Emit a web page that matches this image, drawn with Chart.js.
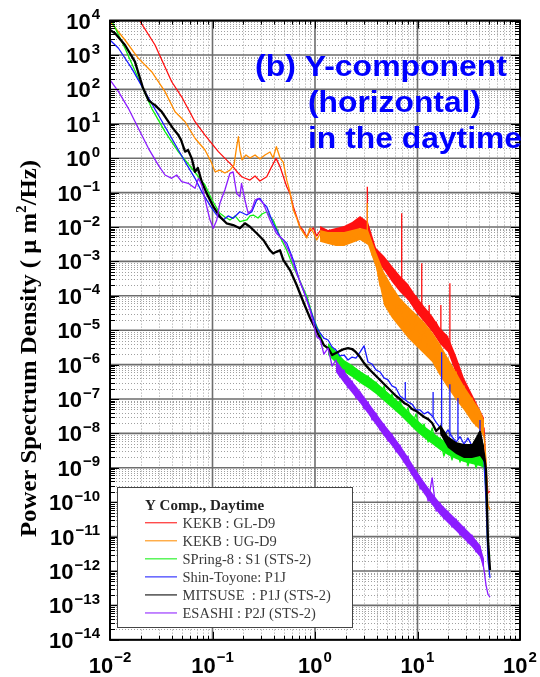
<!DOCTYPE html>
<html><head><meta charset="utf-8">
<script src="https://cdn.jsdelivr.net/npm/chart.js@4.4.1/dist/chart.umd.min.js"></script>
<style>html,body{margin:0;padding:0;background:#fff;}canvas{display:block;}</style>
</head><body>
<canvas id="c" width="540" height="677"></canvas>
<script>
// ---------- DATA (frequency in Hz, PSD in (um)^2/Hz) ----------
const seriesLabels = ['KEKB : GL-D9', 'KEKB : UG-D9', 'SPring-8 : S1 (STS-2)', 'Shin-Toyone: P1J', 'MITSUSE  : P1J (STS-2)', 'ESASHI : P2J (STS-2)'];

// shared high-frequency sampling (Hz)
const freqHi = [1.12, 1.22, 1.34, 1.47, 1.60, 1.75, 1.92, 2.10, 2.30, 2.51, 2.75, 3.01, 3.29, 3.60, 3.94, 4.31, 4.71, 5.16, 5.64, 6.17, 6.75, 7.39, 8.08, 8.84, 9.67, 10.6, 11.6, 12.7, 13.9, 15.2, 16.6, 18.1, 19.8, 21.7, 23.8, 26.0, 28.4, 31.1, 34.0, 37.2, 40.7, 44.6, 46.6, 48.7, 51.0];
// frequencies at which the envelopes of the noisy bands were read (Hz)
const bandFreq = [1.12, 1.34, 1.60, 1.92, 2.30, 2.75, 3.29, 3.94, 4.71, 5.64, 6.75, 8.08, 9.67, 11.6, 13.9, 16.6, 19.8, 23.8, 28.4, 34.0, 40.7, 44.6];
const greenBandFreq = [1.34, 1.60, 1.92, 2.30, 2.75, 3.29, 3.94, 4.71, 5.64, 6.75, 8.08, 9.67, 11.6, 13.9, 16.6, 19.8, 23.8, 28.4, 34.0, 40.7, 44.6];
const purpleBandFreq = [1.60, 1.92, 2.30, 2.75, 3.29, 3.94, 4.71, 5.64, 6.75, 8.08, 9.67, 11.6, 13.9, 16.6, 19.8, 23.8, 28.4, 34.0, 40.7, 44.6];

// KEKB GL-D9 (red)
const redFreqLo = [0.0196, 0.0275, 0.040, 0.050, 0.0675, 0.0845, 0.114, 0.154, 0.179, 0.194, 0.232, 0.26, 0.29, 0.338, 0.372, 0.417, 0.456, 0.53, 0.57, 0.614, 0.662, 0.714, 0.764, 0.83, 0.894, 0.962, 1.04];
const redPsdLo = [9.7e3, 1.95e3, 167, 61, 11.5, 4.7, 1.55, 0.63, 0.364, 0.284, 0.232, 0.304, 0.217, 0.29, 0.52, 0.99, 0.57, 0.148, 0.095, 0.039, 0.02, 0.0102, 0.0082, 0.0052, 0.0077, 0.0094, 0.0055];
const redPsdHi = [7.7e-3, 4.8e-3, 5.5e-3, 3.4e-3, 6.3e-3, 4.2e-3, 7.1e-3, 5.1e-3, 9.4e-3, 7.7e-3, 1.6e-2, 1.14e-2, 1.1e-2, 2.8e-3, 2.1e-3, 9.6e-4, 1.26e-3, 4.3e-4, 6.4e-4, 2.2e-4, 3.0e-4, 1.29e-4, 1.93e-4, 6.6e-5, 9.9e-5, 4.5e-5, 2.6e-5, 3.5e-5, 1.16e-5, 1.73e-5, 7e-6, 3.7e-6, 5.2e-6, 2.5e-6, 6.1e-7, 4e-7, 1.6e-7, 2.1e-7, 7.1e-8, 6.7e-8, 1.44e-8, 1.44e-8, 8.6e-10, 1.85e-10, 2.1e-10];
const redBandUpper = [1.07e-2, 8.2e-3, 9.3e-3, 1.07e-2, 1.4e-2, 2.09e-2, 1.4e-2, 2.45e-3, 1.44e-3, 7.4e-4, 3.8e-4, 2.2e-4, 9.9e-5, 5.0e-5, 2.6e-5, 1.16e-5, 6.8e-6, 1.78e-6, 4.1e-7, 1.4e-7, 4.8e-8, 2.8e-8];
const redBandLower = [4.8e-3, 3.7e-3, 4.2e-3, 4.8e-3, 6.3e-3, 9.3e-3, 6.3e-3, 1.1e-3, 5.6e-4, 2.5e-4, 1.29e-4, 7.5e-5, 3.4e-5, 1.73e-5, 8.9e-6, 4.0e-6, 2.3e-6, 5.3e-7, 1.4e-7, 4.8e-8, 1.64e-8, 1.26e-8];
const redSpikeFreq = [3.24, 7.01, 11.0, 13.0, 16.9, 20.7, 25.0];
const redSpikePeak = [0.148, 0.025, 8.8e-4, 5.4e-5, 5.4e-5, 2.3e-4, 1.11e-6];
const redSpikeBase = [0.011, 2.5e-4, 5e-5, 2e-5, 7e-6, 3e-6, 4e-7];

// KEKB UG-D9 (orange)
const orangeFreqLo = [0.0101, 0.014, 0.0189, 0.0255, 0.0344, 0.0431, 0.054, 0.0675, 0.0845, 0.098, 0.106, 0.118, 0.132, 0.148, 0.162, 0.173, 0.179, 0.185, 0.194, 0.212, 0.232, 0.26, 0.29, 0.325, 0.364, 0.39, 0.42, 0.456, 0.49, 0.53, 0.57, 0.614, 0.662, 0.714, 0.764, 0.83, 0.894, 0.962, 1.04];
const orangePsdLo = [9.1e3, 2.73e3, 800, 327, 86, 22.5, 11.5, 3.8, 1.73, 0.73, 0.40, 0.45, 0.37, 0.45, 0.63, 2.4, 4.2, 1.73, 0.89, 1.24, 1.01, 1.24, 0.95, 1.24, 1.51, 1.01, 2.16, 1.01, 0.77, 0.23, 0.104, 0.0312, 0.0183, 0.0094, 0.0071, 0.0048, 0.0094, 0.0071, 0.0042];
const orangePsdHi = [6.3e-3, 4.2e-3, 5.5e-3, 3.2e-3, 4.8e-3, 3.0e-3, 5.5e-3, 3.7e-3, 6.3e-3, 4.2e-3, 7.1e-3, 4.8e-3, 6e-3, 1.53e-3, 9.6e-4, 1.93e-4, 4.3e-4, 5.8e-5, 1.69e-4, 2.6e-5, 6.6e-5, 1.16e-5, 3.4e-5, 6.8e-6, 2.26e-5, 4.0e-6, 1.32e-5, 2.3e-6, 6.8e-6, 1.04e-6, 3.5e-6, 4.1e-7, 1.55e-6, 1.83e-7, 6.1e-7, 8.2e-8, 2.4e-7, 3.7e-8, 1.07e-7, 1.64e-8, 4.2e-8, 8.4e-9, 1.69e-9, 8.3e-11, 5.9e-11];
const orangeBandUpper = [8.2e-3, 7.1e-3, 7.1e-3, 7.1e-3, 8.2e-3, 9.3e-3, 8.2e-3, 1.88e-3, 4.9e-4, 1.93e-4, 8.6e-5, 5.0e-5, 2.96e-5, 1.73e-5, 8.9e-6, 4.0e-6, 1.55e-6, 6.1e-7, 2.39e-7, 1.07e-7, 4.8e-8, 2.45e-8];
const orangeBandLower = [3.7e-3, 3.2e-3, 2.8e-3, 2.8e-3, 3.4e-3, 4.2e-3, 3.0e-3, 6.4e-4, 5.4e-5, 2.26e-5, 1.16e-5, 5.9e-6, 3.5e-6, 2.03e-6, 1.19e-6, 4.66e-7, 2.09e-7, 9.3e-8, 4.8e-8, 2.15e-8, 1.26e-8, 7.4e-9];
const orangeSpikeFreq = [3.24];
const orangeSpikePeak = [0.05];
const orangeSpikeBase = [6e-3];

// SPring-8 S1 (green)
const greenFreqLo = [0.01, 0.014, 0.0189, 0.0255, 0.0344, 0.0463, 0.0627, 0.0845, 0.099, 0.118, 0.132, 0.148, 0.166, 0.185, 0.216, 0.232, 0.25, 0.278, 0.304, 0.338, 0.364, 0.39, 0.456, 0.53, 0.614, 0.714, 0.83, 0.962];
const greenPsdLo = [1.27e4, 1.57e3, 210, 28.2, 5.9, 1.55, 0.51, 0.166, 0.061, 0.025, 0.0195, 0.016, 0.021, 0.0143, 0.016, 0.021, 0.0223, 0.0183, 0.0239, 0.0278, 0.0195, 0.016, 0.0052, 0.0021, 7.0e-4, 2.7e-4, 9.9e-5, 2.26e-5];
const greenPsdHi = [7.8e-6, 3.5e-6, 3.0e-6, 1.55e-6, 1.78e-6, 8.5e-7, 1.19e-6, 6.1e-7, 9.1e-7, 4.1e-7, 6.1e-7, 2.73e-7, 4.7e-7, 1.95e-7, 3.1e-7, 1.22e-7, 2.4e-7, 8.2e-8, 1.4e-7, 4.8e-8, 9.3e-8, 3.2e-8, 5.5e-8, 1.64e-8, 3.7e-8, 1.1e-8, 1.88e-8, 5.6e-9, 1.44e-8, 4.3e-9, 7.3e-9, 2.2e-9, 4.9e-9, 1.69e-9, 4.3e-9, 1.47e-9, 3.8e-9, 1.13e-9, 3.3e-9, 9.9e-10, 2.2e-9, 1.13e-9, 2.26e-10, 3.3e-12, 2.7e-12];
const greenBandUpper = [4.25e-6, 2.5e-6, 1.36e-6, 9.73e-7, 6.52e-7, 4.66e-7, 3.12e-7, 1.95e-7, 1.22e-7, 7.7e-8, 4.5e-8, 2.6e-8, 1.64e-8, 1.1e-8, 7.4e-9, 5.3e-9, 4.0e-9, 3.3e-9, 2.9e-9, 2.5e-9, 2.06e-9];
const greenBandLower = [1.9e-6, 1.11e-6, 6.1e-7, 4.36e-7, 2.92e-7, 2.09e-7, 1.4e-7, 8.7e-8, 5.5e-8, 3.4e-8, 2.0e-8, 1.17e-8, 7.4e-9, 4.9e-9, 3.3e-9, 2.35e-9, 1.8e-9, 1.47e-9, 1.29e-9, 1.13e-9, 9.9e-10];

// Shin-Toyone P1J (blue)
const blueFreqLo = [0.01, 0.0121, 0.0163, 0.0219, 0.0296, 0.04, 0.054, 0.0675, 0.0785, 0.0878, 0.097, 0.11, 0.127, 0.142, 0.159, 0.185, 0.216, 0.242, 0.27, 0.29, 0.31, 0.338, 0.39, 0.456, 0.53, 0.614, 0.714, 0.83, 0.962, 1.04];
const bluePsdLo = [2.73e3, 1.57e3, 410, 86, 18, 3.8, 0.79, 0.26, 0.106, 0.061, 0.038, 0.0223, 0.016, 0.021, 0.0179, 0.0278, 0.0223, 0.0278, 0.061, 0.068, 0.05, 0.039, 0.0128, 0.0052, 0.0034, 0.0011, 2.5e-4, 8.1e-5, 2.26e-5, 1.16e-5];
const bluePsdHi = [8.3e-6, 5.9e-6, 5.2e-6, 3.25e-6, 2.66e-6, 1.78e-6, 1.9e-6, 1.36e-6, 1.66e-6, 1.55e-6, 2.3e-6, 3.5e-6, 1.19e-6, 1.04e-6, 7.0e-7, 6.1e-7, 4.1e-7, 3.6e-7, 2.4e-7, 2.1e-7, 1.22e-7, 1.0e-7, 8.2e-8, 7.1e-8, 4.8e-8, 4.8e-8, 3.7e-8, 4.2e-8, 3.2e-8, 2.1e-8, 1.5e-8, 8.4e-9, 1.26e-8, 8e-9, 5.6e-9, 8e-9, 4.9e-9, 7.3e-9, 4.3e-9, 2.9e-9, 3.5e-9, 1.47e-9, 1.16e-10, 2.1e-12, 6.3e-13];
const blueSpikeFreq = [7.6, 14.2, 17.2, 20.7, 24.8, 40.7];
const blueSpikePeak = [3.1e-7, 1.6e-7, 2.3e-6, 2.7e-7, 1.07e-7, 2.45e-8];
const blueSpikeBase = [1e-7, 3e-8, 1.3e-8, 8e-9, 7e-9, 4e-9];

// MITSUSE P1J (black)
const blackFreqLo = [0.01, 0.0112, 0.014, 0.0175, 0.021, 0.0237, 0.0257, 0.0275, 0.0319, 0.0371, 0.041, 0.0464, 0.0493, 0.054, 0.0577, 0.0627, 0.0675, 0.072, 0.0785, 0.0878, 0.102, 0.118, 0.137, 0.159, 0.185, 0.207, 0.232, 0.27, 0.313, 0.364, 0.39, 0.42, 0.456, 0.49, 0.57, 0.662, 0.77, 0.894];
const blackPsdLo = [5.3e3, 4.3e3, 1.95e3, 640, 110, 49, 40, 35, 22.5, 11.5, 7.5, 4.7, 3.4, 1.55, 1.73, 0.99, 0.40, 0.52, 0.207, 0.095, 0.039, 0.02, 0.0128, 0.0114, 0.0092, 0.0128, 0.0102, 0.0066, 0.0042, 0.0021, 0.0017, 0.0019, 0.0021, 0.0011, 5.6e-4, 2.06e-4, 6.6e-5, 2.26e-5];
const blackPsdHi = [5.9e-6, 3.7e-6, 3.0e-6, 1.9e-6, 2.17e-6, 2.5e-6, 2.84e-6, 3.0e-6, 2.84e-6, 2.3e-6, 1.66e-6, 1.11e-6, 8.0e-7, 6.1e-7, 4.66e-7, 3.57e-7, 2.73e-7, 2.09e-7, 1.6e-7, 1.22e-7, 1.0e-7, 7.7e-8, 6.7e-8, 5.1e-8, 4.5e-8, 3.7e-8, 3.0e-8, 2.6e-8, 2.0e-8, 1.17e-8, 1.53e-8, 7.9e-9, 5.6e-9, 4.3e-9, 3.5e-9, 2.9e-9, 3.3e-9, 2.35e-9, 3.3e-9, 4.9e-9, 1.1e-8, 2.35e-9, 8.6e-10, 8.0e-12, 1.07e-12];
const blackBandFreq = [16.6, 19.8, 23.8, 28.4, 34.0, 40.7, 44.6];
const blackBandUpper = [1.88e-8, 8.4e-9, 5.6e-9, 4.9e-9, 4.9e-9, 1.26e-8, 4.3e-9];
const blackBandLower = [9.6e-9, 3.8e-9, 2.5e-9, 1.93e-9, 1.93e-9, 2.2e-9, 1.47e-9];

// ESASHI P2J (purple)
const purpleFreqLo = [0.01, 0.0121, 0.0151, 0.0189, 0.0237, 0.0296, 0.0344, 0.04, 0.0447, 0.05, 0.058, 0.0675, 0.073, 0.079, 0.0878, 0.0946, 0.102, 0.11, 0.118, 0.132, 0.148, 0.159, 0.172, 0.185, 0.192, 0.207, 0.223, 0.241, 0.26, 0.28, 0.313, 0.364, 0.42, 0.49, 0.57, 0.662, 0.77, 0.894, 1.04];
const purplePsdLo = [188, 86, 28.2, 7.4, 1.94, 0.63, 0.325, 0.26, 0.325, 0.207, 0.186, 0.133, 0.26, 0.155, 0.039, 0.016, 0.0092, 0.016, 0.049, 0.119, 0.364, 0.40, 0.095, 0.076, 0.186, 0.061, 0.025, 0.031, 0.061, 0.068, 0.049, 0.016, 0.0066, 0.0042, 0.0017, 4.5e-4, 1.47e-4, 3.9e-5, 6.5e-6];
const purplePsdHi = [5.5e-6, 2.03e-6, 3.0e-6, 9.1e-7, 1.36e-6, 4.36e-7, 7.0e-7, 2.09e-7, 3.34e-7, 1.07e-7, 1.6e-7, 5.1e-8, 8.2e-8, 2.45e-8, 3.9e-8, 1.26e-8, 1.88e-8, 6.0e-9, 9.6e-9, 2.9e-9, 4.6e-9, 1.47e-9, 2.2e-9, 6.2e-10, 8.6e-10, 2.4e-10, 3.6e-10, 1.08e-10, 5.1e-10, 5.5e-11, 9.5e-11, 3.25e-11, 5.5e-11, 1.9e-11, 3.25e-11, 1.11e-11, 1.9e-11, 6.5e-12, 1.11e-11, 3.6e-12, 5.3e-12, 1.07e-12, 3.9e-13, 2.1e-13, 1.75e-13];
const purpleBandUpper = [1.36e-6, 6.52e-7, 3.34e-7, 1.71e-7, 8.2e-8, 3.9e-8, 1.88e-8, 9.6e-9, 4.6e-9, 2.06e-9, 8.6e-10, 3.86e-10, 1.85e-10, 9.5e-11, 5.55e-11, 3.25e-11, 1.9e-11, 1.11e-11, 5.7e-12, 2.23e-12];
const purpleBandLower = [6.1e-7, 2.92e-7, 1.49e-7, 7.7e-8, 3.7e-8, 1.76e-8, 8.4e-9, 4.3e-9, 2.06e-9, 9.2e-10, 3.86e-10, 1.73e-10, 8.3e-11, 4.25e-11, 2.5e-11, 1.45e-11, 8.5e-12, 4.99e-12, 2.55e-12, 1.0e-12];

// tick labels (powers of ten)
const xTickExp = [-2, -1, 0, 1, 2];
const yTickExp = [4, 3, 2, 1, 0, -1, -2, -3, -4, -5, -6, -7, -8, -9, -10, -11, -12, -13, -14];

const titleLines = ['(b) Y-component', '(horizontal)', 'in the daytime'];
const legendTitle = 'Y Comp., Daytime';
const axisTitle = ['Power Spectrum Density ( \u03bc m', '2', '/Hz)'];

// ---------- build ----------
const colors = ['#ff1010', '#ff8c00', '#10f010', '#1a1aff', '#000000', '#8c1cff'];
const widths = [1.3, 1.3, 1.3, 1.3, 2.3, 1.3];
const drawOrder = [6, 5, 4, 3, 2, 1];

function joinPts(fl, pl, fh, ph) {
  const out = fl.map((f, i) => ({x: f, y: pl[i]}));
  return out.concat(fh.map((f, i) => ({x: f, y: ph[i]})));
}
function spikePts(fs, pk, bs) {
  const out = [];
  fs.forEach((f, i) => { out.push({x: f, y: bs[i]}, {x: f, y: pk[i]}, {x: f, y: null}); });
  return out;
}
const toPts = (fs, vs) => fs.map((f, i) => ({x: f, y: vs[i]}));

const mainData = [
  joinPts(redFreqLo, redPsdLo, freqHi, redPsdHi),
  joinPts(orangeFreqLo, orangePsdLo, freqHi, orangePsdHi),
  joinPts(greenFreqLo, greenPsdLo, freqHi, greenPsdHi),
  joinPts(blueFreqLo, bluePsdLo, freqHi, bluePsdHi),
  joinPts(blackFreqLo, blackPsdLo, freqHi, blackPsdHi),
  joinPts(purpleFreqLo, purplePsdLo, freqHi, purplePsdHi)
];
const datasets = mainData.map((d, i) => ({
  label: seriesLabels[i], data: d, borderColor: colors[i], borderWidth: widths[i],
  pointRadius: 0, tension: 0, borderJoinStyle: 'round', fill: false, order: drawOrder[i], isMain: true
}));
[[0, spikePts(redSpikeFreq, redSpikePeak, redSpikeBase)],
 [1, spikePts(orangeSpikeFreq, orangeSpikePeak, orangeSpikeBase)],
 [3, spikePts(blueSpikeFreq, blueSpikePeak, blueSpikeBase)]].forEach(([k, d]) => {
  datasets.push({label: seriesLabels[k] + ' spikes', data: d, borderColor: colors[k], borderWidth: 1.3,
    pointRadius: 0, spanGaps: false, fill: false, order: drawOrder[k], isMain: false});
});
// noisy bands: lower envelope then upper envelope filled down to it
[[0, bandFreq, redBandLower, redBandUpper],
 [1, bandFreq, orangeBandLower, orangeBandUpper],
 [2, greenBandFreq, greenBandLower, greenBandUpper],
 [4, blackBandFreq, blackBandLower, blackBandUpper],
 [5, purpleBandFreq, purpleBandLower, purpleBandUpper]].forEach(([k, fs, lo, hi]) => {
  datasets.push({label: 'band-lo', data: toPts(fs, lo), borderWidth: 0, borderColor: 'rgba(0,0,0,0)',
    pointRadius: 0, fill: false, order: drawOrder[k] + 0.5, isMain: false});
  datasets.push({label: 'band-hi', data: toPts(fs, hi), borderWidth: 0, borderColor: 'rgba(0,0,0,0)',
    backgroundColor: colors[k], pointRadius: 0, fill: '-1', order: drawOrder[k] + 0.5, isMain: false});
});

const SANS = '"Liberation Sans", Arial, Helvetica, sans-serif';
const SERIF = '"Liberation Serif", "Times New Roman", serif';

function decadeValues(e0, e1, minor) {
  const v = [];
  for (let e = e0; e <= e1; e++) {
    if (!minor) v.push(Math.pow(10, e));
    else if (e < e1) for (let m = 2; m <= 9; m++) v.push(m * Math.pow(10, e));
  }
  return v;
}

function drawPow(ctx, e, x, yBase, ySup, mode) {
  const base = '10', sup = e < 0 ? '\u2212' + (-e) : String(e);
  ctx.font = 'bold 22px ' + SANS;
  const wb = ctx.measureText(base).width;
  ctx.font = 'bold 15px ' + SANS;
  const ws = ctx.measureText(sup).width;
  const tot = wb + 1 + ws;
  const x0 = mode === 'right' ? x - tot : x - tot / 2;
  ctx.textAlign = 'left'; ctx.textBaseline = 'alphabetic';
  ctx.font = 'bold 22px ' + SANS; ctx.fillText(base, x0, yBase);
  ctx.font = 'bold 15px ' + SANS; ctx.fillText(sup, x0 + wb + 1, ySup);
}

function fitText(ctx, text, x, y, targetW) {
  const w = ctx.measureText(text).width;
  ctx.save(); ctx.translate(x, y); ctx.scale(targetW / w, 1);
  ctx.fillText(text, 0, 0); ctx.restore();
}

const decor = {
  id: 'decor',
  beforeDatasetsDraw(chart) {
    const {ctx, chartArea: a, scales: {x, y}} = chart;
    ctx.save();
    ctx.strokeStyle = '#a0a0a0'; ctx.lineWidth = 1; ctx.setLineDash([1, 2]);
    ctx.beginPath();
    decadeValues(-2, 2, true).forEach(v => { const p = Math.round(x.getPixelForValue(v)) + 0.5; ctx.moveTo(p, a.top); ctx.lineTo(p, a.bottom); });
    decadeValues(-14, 4, true).forEach(v => { const p = Math.round(y.getPixelForValue(v)) + 0.5; ctx.moveTo(a.left, p); ctx.lineTo(a.right, p); });
    ctx.stroke();
    ctx.setLineDash([]);
    ctx.strokeStyle = '#6e6e6e'; ctx.lineWidth = 1.6;
    ctx.beginPath();
    decadeValues(-2, 2, false).forEach(v => { const p = x.getPixelForValue(v); ctx.moveTo(p, a.top); ctx.lineTo(p, a.bottom); });
    decadeValues(-14, 4, false).forEach(v => { const p = y.getPixelForValue(v); ctx.moveTo(a.left, p); ctx.lineTo(a.right, p); });
    ctx.stroke();
    ctx.restore();
  },
  afterDatasetsDraw(chart) {
    const {ctx, chartArea: a, scales: {x, y}} = chart;
    ctx.save();
    ctx.strokeStyle = '#000'; ctx.lineWidth = 1;
    ctx.beginPath();
    const tick = (vals, len) => {
      vals.forEach(v => {
        const px = Math.round(x.getPixelForValue(v)) + 0.5;
        ctx.moveTo(px, a.bottom); ctx.lineTo(px, a.bottom - len); ctx.moveTo(px, a.top); ctx.lineTo(px, a.top + len);
      });
    };
    tick(decadeValues(-2, 2, true), 4); tick(decadeValues(-2, 2, false), 8);
    const ytick = (vals, len) => {
      vals.forEach(v => {
        const py = Math.round(y.getPixelForValue(v)) + 0.5;
        ctx.moveTo(a.left, py); ctx.lineTo(a.left + len, py); ctx.moveTo(a.right, py); ctx.lineTo(a.right - len, py);
      });
    };
    ytick(decadeValues(-14, 4, true), 5); ytick(decadeValues(-14, 4, false), 9);
    ctx.stroke();
    ctx.lineWidth = 2; ctx.strokeStyle = '#000';
    ctx.strokeRect(a.left, a.top, a.right - a.left, a.bottom - a.top);

    ctx.fillStyle = '#000';
    yTickExp.forEach(e => { const py = y.getPixelForValue(Math.pow(10, e)); drawPow(ctx, e, 100, py + 8, py - 1.5, 'right'); });
    xTickExp.forEach(e => { const px = x.getPixelForValue(Math.pow(10, e)); drawPow(ctx, e, px, 673, 661.5, 'center'); });

    ctx.save();
    ctx.translate(30, 348.5); ctx.rotate(-Math.PI / 2);
    const f1 = 'bold 23px ' + SERIF, f2 = 'bold 14px ' + SERIF;
    ctx.font = f1; const w1 = ctx.measureText(axisTitle[0]).width, w3 = ctx.measureText(axisTitle[2]).width;
    ctx.font = f2; const w2 = ctx.measureText(axisTitle[1]).width;
    const tot = w1 + w2 + w3;
    ctx.scale(377 / tot, 1);
    const s = -tot / 2;
    ctx.textAlign = 'left'; ctx.textBaseline = 'alphabetic';
    ctx.font = f1; ctx.fillText(axisTitle[0], s, 6);
    ctx.font = f2; ctx.fillText(axisTitle[1], s + w1, -4);
    ctx.font = f1; ctx.fillText(axisTitle[2], s + w1 + w2, 6);
    ctx.restore();

    ctx.fillStyle = '#0000ff';
    ctx.font = 'bold 30px ' + SANS; ctx.textAlign = 'left'; ctx.textBaseline = 'alphabetic';
    fitText(ctx, titleLines[0], 255, 76, 252);
    fitText(ctx, titleLines[1], 308, 112, 173);
    fitText(ctx, titleLines[2], 308, 148, 214);

    ctx.fillStyle = '#fff'; ctx.strokeStyle = '#444'; ctx.lineWidth = 1;
    ctx.fillRect(117, 487, 235, 140);
    ctx.strokeRect(117.5, 487.5, 235, 140);
    ctx.fillStyle = '#222'; ctx.font = 'bold 15px ' + SERIF;
    ctx.fillText(legendTitle, 145, 509.5);
    const mains = chart.data.datasets.filter(d => d.isMain);
    mains.forEach((d, i) => {
      const ry = 522.7 + i * 18.05;
      ctx.strokeStyle = d.borderColor; ctx.globalAlpha = 0.75; ctx.lineWidth = 1.4;
      ctx.beginPath(); ctx.moveTo(145, ry); ctx.lineTo(177, ry); ctx.stroke();
      ctx.globalAlpha = 1;
      ctx.fillStyle = '#3a3a3a'; ctx.font = '14.5px ' + SERIF;
      ctx.fillText(d.label, 182.5, ry + 5);
    });
    ctx.restore();
  }
};

new Chart(document.getElementById('c'), {
  type: 'line',
  data: {datasets},
  options: {
    responsive: false, animation: false, devicePixelRatio: 1,
    layout: {padding: {left: 110, right: 20, top: 20.6, bottom: 37.2}},
    scales: {
      x: {type: 'logarithmic', min: 0.01, max: 100, display: false},
      y: {type: 'logarithmic', min: 1e-14, max: 1e4, display: false}
    },
    plugins: {legend: {display: false}, tooltip: {enabled: false}},
    elements: {point: {radius: 0}}
  },
  plugins: [decor]
});
</script>
</body></html>
